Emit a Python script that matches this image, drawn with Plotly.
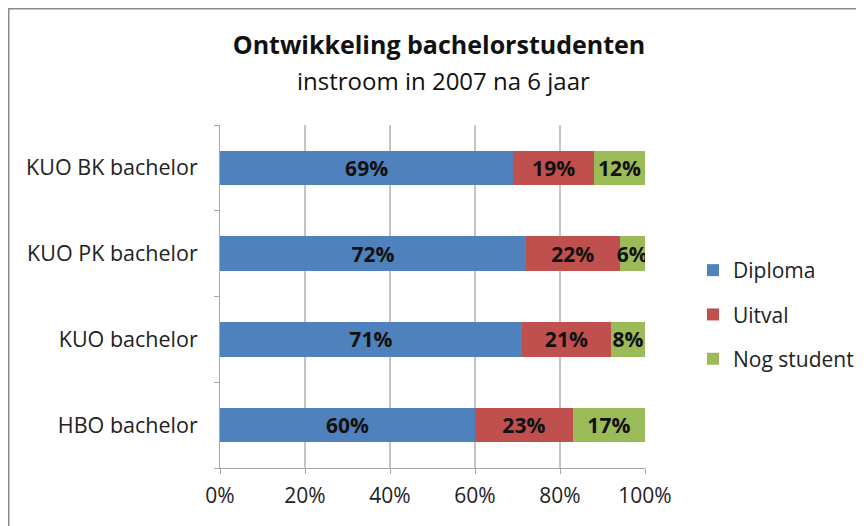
import plotly.graph_objects as go

categories = ["HBO bachelor", "KUO bachelor", "KUO PK bachelor", "KUO BK bachelor"]
diploma = [60, 71, 72, 69]
uitval = [23, 21, 22, 19]
nog_student = [17, 8, 6, 12]
series_names = ["Diploma", "Uitval", "Nog student"]
colors = ["#4F81BD", "#C0504D", "#9BBB59"]
x_ticks = [0, 20, 40, 60, 80, 100]
x_tick_labels = ["0%", "20%", "40%", "60%", "80%", "100%"]
title_text = "Ontwikkeling bachelorstudenten"
subtitle_text = "instroom in 2007 na 6 jaar"

FONT = "Open Sans"
# page has an 8px body margin; figure coordinates = page coordinates - 8
OFF = 8
W, H = 864 - OFF, 526 - OFF
L, R, T, B = 212, 219, 117, 58
pw, ph = W - L - R, H - T - B

def px_x(px):  # page px -> paper x
    return (px - OFF - L) / pw

def px_y(py):  # page px -> paper y
    return (H - B - (py - OFF)) / ph

fig = go.Figure()
for name, vals, col in zip(series_names, [diploma, uitval, nog_student], colors):
    fig.add_trace(go.Bar(
        y=categories, x=vals, name=name, orientation="h",
        marker=dict(color=col, line=dict(width=0)),
        text=[f"{v}%" for v in vals], textposition="inside", textangle=0,
        insidetextanchor="middle", constraintext="none",
        textfont=dict(family=FONT, size=21, color="#111111", weight="bold"),
        legendgroup=name, hoverinfo="skip",
    ))

fig.update_layout(
    width=W, height=H,
    margin=dict(l=L, r=R, t=T, b=B, autoexpand=False),
    barmode="stack", bargap=0.6,
    paper_bgcolor="white", plot_bgcolor="white",
    font=dict(family=FONT, size=21, color="#222222"),
    title=dict(
        text="<b>" + title_text + "</b>",
        x=(439 - OFF) / W, xanchor="center",
        y=1 - (45 - OFF) / H, yanchor="middle", yref="container",
        font=dict(family=FONT, size=25, color="#111111"),
    ),
    annotations=[dict(
        text=subtitle_text, xref="paper", yref="paper",
        x=px_x(443), y=px_y(80), xanchor="center", yanchor="middle",
        showarrow=False, font=dict(family=FONT, size=24, color="#111111"),
    )],
    xaxis=dict(
        range=[0, 100], tickvals=x_ticks, ticktext=x_tick_labels,
        showgrid=True, gridcolor="#C4C4C4", gridwidth=1.5,
        showline=True, linecolor="#A6A6A6", linewidth=1,
        ticks="outside", ticklen=5, tickcolor="#A6A6A6",
        tickfont=dict(family=FONT, size=21, color="#222222"),
        ticklabelstandoff=4,
        zeroline=False, fixedrange=True,
    ),
    yaxis=dict(
        categoryorder="array", categoryarray=categories,
        showline=True, linecolor="#A6A6A6", linewidth=1,
        ticks="outside", ticklen=5, tickcolor="#A6A6A6", tickson="boundaries",
        tickfont=dict(family=FONT, size=21.5, color="#222222"),
        ticklabelstandoff=17,
        showgrid=False, fixedrange=True,
    ),
    legend=dict(
        x=px_x(693), xanchor="left",
        y=px_y(250), yanchor="top",
        traceorder="grouped", tracegroupgap=14,
        font=dict(family=FONT, size=21, color="#222222"),
        itemwidth=30, bgcolor="rgba(0,0,0,0)",
    ),
    shapes=[
        dict(type="line", xref="paper", yref="paper",
             x0=px_x(8), x1=px_x(864),
             y0=px_y(8.5), y1=px_y(8.5),
             line=dict(color="#8C8C8C", width=2)),
        dict(type="line", xref="paper", yref="paper",
             x0=px_x(8.5), x1=px_x(8.5),
             y0=px_y(8), y1=px_y(526),
             line=dict(color="#8C8C8C", width=2)),
    ],
)

fig.write_html("out.html")
